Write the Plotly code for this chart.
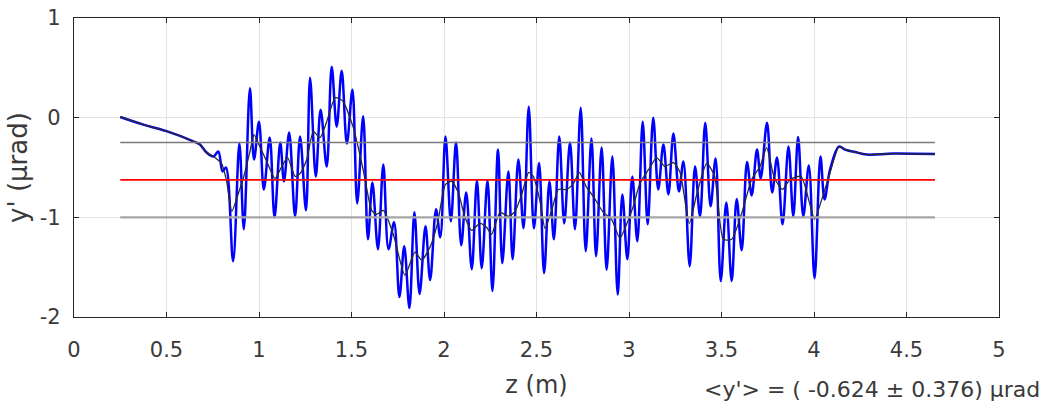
import plotly.graph_objects as go

# ---- data ----
z_blue = [0.25, 0.375, 0.50, 0.645, 0.681, 0.717, 0.753, 0.78, 0.803, 0.821,
          0.860, 0.894, 0.918, 0.951, 0.973, 1.000, 1.026, 1.058, 1.084, 1.115,
          1.135, 1.163, 1.195, 1.222, 1.254, 1.276, 1.307, 1.333, 1.366, 1.393,
          1.42, 1.447, 1.475, 1.505, 1.531, 1.563, 1.589, 1.613, 1.643, 1.672,
          1.70, 1.73, 1.759, 1.785, 1.813, 1.840, 1.868, 1.900, 1.925, 1.957,
          1.98, 2.008, 2.037, 2.065, 2.093, 2.120, 2.150, 2.178, 2.204, 2.235,
          2.262, 2.292, 2.315, 2.348, 2.371, 2.402, 2.43, 2.458, 2.486, 2.514,
          2.541, 2.57, 2.594, 2.623, 2.65, 2.681, 2.708, 2.739, 2.766, 2.797,
          2.822, 2.852, 2.879, 2.91, 2.939, 2.964, 2.991, 3.018, 3.045, 3.074,
          3.101, 3.131, 3.158, 3.186, 3.213, 3.24, 3.27, 3.294, 3.328, 3.357,
          3.384, 3.412, 3.441, 3.468, 3.496, 3.526, 3.555, 3.582, 3.609, 3.638,
          3.663, 3.692, 3.712, 3.746, 3.774, 3.80, 3.83, 3.862, 3.888, 3.914,
          3.942, 3.972, 4.003, 4.035, 4.057, 4.087, 4.135, 4.168, 4.222, 4.285,
          4.43, 4.654]
y_blue = [0.007, -0.07, -0.135, -0.237, -0.27, -0.35, -0.39, -0.34, -0.54, -0.50,
          -1.44, -0.26, -1.12, 0.295, -0.42, -0.04, -0.72, -0.20, -1.00, -0.25,
          -0.64, -0.15, -0.99, -0.19, -0.93, 0.40, -0.59, 0.08, -0.49, 0.51,
          -0.09, 0.47, -0.26, 0.28, -0.86, 0.013, -1.22, -0.65, -1.32, -0.47,
          -1.32, -1.05, -1.80, -1.29, -1.91, -0.95, -1.77, -1.09, -1.63, -0.92,
          -1.20, -0.19, -1.04, -0.25, -1.28, -0.75, -1.52, -0.63, -1.51, -0.63,
          -1.74, -0.32, -1.46, -0.54, -1.42, -0.42, -1.11, 0.11, -1.11, -0.455,
          -1.56, -0.64, -1.22, -0.19, -1.06, -0.25, -1.12, 0.10, -1.34, -0.21,
          -1.39, -0.30, -1.525, -0.39, -1.775, -0.77, -1.42, -0.59, -1.24, -0.04,
          -1.07, 0.00, -0.72, -0.27, -0.77, -0.16, -0.74, -0.44, -1.49, -0.49,
          -0.99, -0.05, -0.89, -0.41, -1.64, -0.85, -1.64, -0.815, -1.33, -0.445,
          -0.78, -0.32, -0.61, -0.05, -0.75, -0.40, -1.07, -0.29, -0.99, -0.195,
          -0.99, -0.48, -1.61, -0.39, -0.82, -0.52, -0.29, -0.32, -0.345, -0.37,
          -0.36, -0.365]

z_avg = [0.25, 0.375, 0.50, 0.645, 0.681, 0.717, 0.753, 0.798, 0.825, 0.853,
         0.89, 0.915, 0.951, 0.973, 0.997, 1.042, 1.087, 1.123, 1.155, 1.195,
         1.222, 1.258, 1.294, 1.33, 1.366, 1.411, 1.435, 1.456, 1.51, 1.564,
         1.609, 1.636, 1.672, 1.726, 1.789, 1.843, 1.879, 1.924, 1.965, 2.008,
         2.041, 2.077, 2.113, 2.15, 2.194, 2.23, 2.257, 2.303, 2.348, 2.384,
         2.42, 2.458, 2.483, 2.519, 2.546, 2.582, 2.618, 2.664, 2.70, 2.732,
         2.771, 2.807, 2.861, 2.906, 2.951, 2.987, 3.023, 3.059, 3.113, 3.149,
         3.194, 3.24, 3.276, 3.326, 3.366, 3.42, 3.462, 3.51, 3.555, 3.609,
         3.663, 3.708, 3.744, 3.785, 3.83, 3.87, 3.93, 3.975, 4.003, 4.042,
         4.087, 4.135, 4.168, 4.222, 4.285, 4.43, 4.654]
y_avg = [0.007, -0.07, -0.135, -0.237, -0.27, -0.35, -0.39, -0.46, -0.64, -0.94,
         -0.75, -0.61, -0.34, -0.17, -0.26, -0.44, -0.61, -0.49, -0.40, -0.59,
         -0.56, -0.42, -0.14, -0.20, -0.04, 0.20, 0.19, 0.16, -0.10, -0.53,
         -0.93, -0.97, -0.93, -1.17, -1.58, -1.35, -1.43, -1.30, -1.06, -0.67,
         -0.64, -0.75, -1.00, -1.13, -1.06, -1.10, -1.17, -0.95, -0.99, -0.94,
         -0.77, -0.55, -0.59, -0.84, -1.11, -0.93, -0.72, -0.72, -0.66, -0.55,
         -0.70, -0.79, -0.95, -1.02, -1.21, -1.07, -0.89, -0.66, -0.50, -0.40,
         -0.49, -0.45, -0.55, -1.06, -0.77, -0.46, -0.58, -1.22, -1.22, -0.96,
         -0.62, -0.49, -0.30, -0.60, -0.72, -0.62, -0.59, -0.85, -1.02, -0.82,
         -0.55, -0.29, -0.32, -0.345, -0.37, -0.36, -0.365]

mean_y = -0.624
std_y = 0.376
z_span = [0.25, 4.654]

x_ticks = [0, 0.5, 1, 1.5, 2, 2.5, 3, 3.5, 4, 4.5, 5]
x_ticklabels = ["0", "0.5", "1", "1.5", "2", "2.5", "3", "3.5", "4", "4.5", "5"]
y_ticks = [-2, -1, 0, 1]
y_ticklabels = ["-2", "-1", "0", "1"]

FONT = "DejaVu Sans"
TXT = "#3a3a3a"

fig = go.Figure()
fig.add_trace(go.Scatter(x=z_blue, y=y_blue, mode="lines",
                         line=dict(color="#0000ff", width=2.5, shape="spline", smoothing=1.0),
                         showlegend=False, hoverinfo="skip"))
fig.add_trace(go.Scatter(x=z_avg, y=y_avg, mode="lines",
                         line=dict(color="#2b2b2b", width=1.3, shape="spline", smoothing=0.6),
                         showlegend=False, hoverinfo="skip"))
fig.add_trace(go.Scatter(x=z_span, y=[mean_y + std_y] * 2, mode="lines",
                         line=dict(color="#7a7a7a", width=1.5),
                         showlegend=False, hoverinfo="skip"))
fig.add_trace(go.Scatter(x=z_span, y=[mean_y - std_y] * 2, mode="lines",
                         line=dict(color="#a6a6a6", width=2.4),
                         showlegend=False, hoverinfo="skip"))
fig.add_trace(go.Scatter(x=z_span, y=[mean_y] * 2, mode="lines",
                         line=dict(color="#ff0000", width=1.6),
                         showlegend=False, hoverinfo="skip"))

axis_common = dict(
    showline=True, linecolor="#262626", linewidth=1.3, mirror="ticks",
    ticks="inside", ticklen=5, tickcolor="#262626", tickwidth=1,
    showgrid=True, gridcolor="#e3e3e3", gridwidth=1, zeroline=False,
    automargin=False, ticklabeloverflow="allow",
    tickfont=dict(family=FONT, size=21, color=TXT),
)

fig.update_layout(
    width=1060, height=405,
    margin=dict(l=74, r=61, t=18, b=88, autoexpand=False),
    paper_bgcolor="white", plot_bgcolor="white",
    xaxis=dict(range=[0, 5], tickmode="array", tickvals=x_ticks, ticktext=x_ticklabels,
               ticklabelstandoff=14,
               title=dict(text="z (m)", font=dict(family=FONT, size=24, color=TXT), standoff=14),
               **axis_common),
    yaxis=dict(range=[-2, 1], tickmode="array", tickvals=y_ticks, ticktext=y_ticklabels,
               ticklabelstandoff=8,
               title=dict(text="y' (µrad)", font=dict(family=FONT, size=26, color=TXT), standoff=4),
               **axis_common),
    annotations=[dict(
        text="&lt;y'&gt; = ( %.3f ± %.3f) µrad" % (mean_y, std_y),
        xref="paper", yref="paper", x=1.0465, y=-0.243,
        xanchor="right", yanchor="middle", showarrow=False,
        font=dict(family=FONT, size=22, color=TXT),
    )],
)

# remove the default 8 px page margin so the figure fills the window exactly
fig.write_html("out.html",
               config={"displayModeBar": False},
               post_script="document.body.style.margin='0';document.body.style.overflow='hidden';")
